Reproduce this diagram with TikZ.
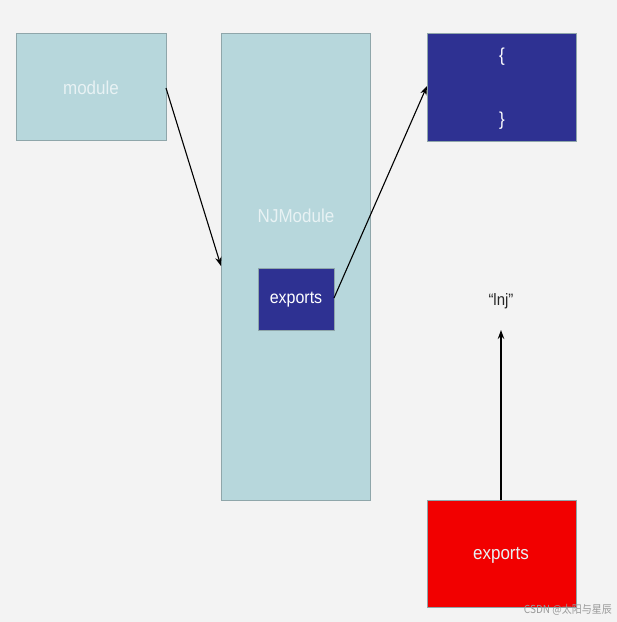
\documentclass[tikz,border=0pt]{standalone}
\usepackage{fontspec}
\setmainfont{Liberation Sans}
\newfontfamily\cjk{Noto Sans CJK SC}
\usetikzlibrary{arrows.meta}
\definecolor{bg}{HTML}{F3F3F3}
\definecolor{lightbox}{HTML}{B7D7DC}
\definecolor{lightedge}{HTML}{8FA6AA}
\definecolor{navy}{HTML}{2E3192}
\definecolor{redbox}{HTML}{F20000}
\definecolor{paletext}{HTML}{E8F2F4}
\tikzset{
  box/.style={draw=lightedge, line width=1pt, inner sep=0pt, anchor=north west},
  lbox/.style={box, fill=lightbox},
  nbox/.style={box, fill=navy},
  rbox/.style={box, fill=redbox},
  lbl/.style={font=\fontsize{17}{19}\selectfont, inner sep=0pt, yscale=1.1},
  conn/.style={draw=black, line width=1.1pt, -{Stealth[length=9pt,width=6.5pt]}}
}
\begin{document}
\begin{tikzpicture}[x=1pt,y=-1pt]
\fill[bg] (0,0) rectangle (617,622);
\useasboundingbox (0,0) rectangle (617,622);
% boxes
\node[lbox, minimum width=150pt, minimum height=107pt] (module) at (16,33) {};
\node[lbl, text=paletext] (moduletxt) at (91,88) {module};
\node[lbox, minimum width=149pt, minimum height=467pt] (nj) at (221,33) {};
\node[lbl, text=paletext] (njtxt) at (296,216) {NJModule};
\node[nbox, minimum width=76pt, minimum height=62pt] (inexp) at (258,268) {};
\node[lbl, text=white, font=\fontsize{16}{18}\selectfont] (inexptxt) at (296,300) {exports};
\node[nbox, minimum width=149pt, minimum height=108pt] (obj) at (427,33) {};
\node[lbl, text=white] (lbrace) at (502,57) {\{};
\node[lbl, text=white] (rbrace) at (502,121) {\}};
\node[lbl, font=\fontsize{15}{17}\selectfont, text=black!85] (inj) at (501,301) {“lnj”};
\node[rbox, minimum width=149pt, minimum height=107pt] (redexp) at (427,500) {};
\node[lbl, text=paletext] (redtxt) at (501,555) {exports};
\node[lbl, font=\cjk\fontsize{10}{12}\selectfont, text=black!40, anchor=east] (wm) at (612,610) {CSDN @太阳与星辰};
% connectors
\coordinate (a1s) at (166,88);
\coordinate (a1e) at (221,266);
\coordinate (a2s) at (334,298);
\coordinate (a2e) at (427,86);
\coordinate (a3s) at (501,500);
\coordinate (a3e) at (501,330);
\draw[conn] (a1s) -- (a1e);
\draw[conn] (a2s) -- (a2e);
\draw[conn] (a3s) -- (a3e);
\end{tikzpicture}
\end{document}
